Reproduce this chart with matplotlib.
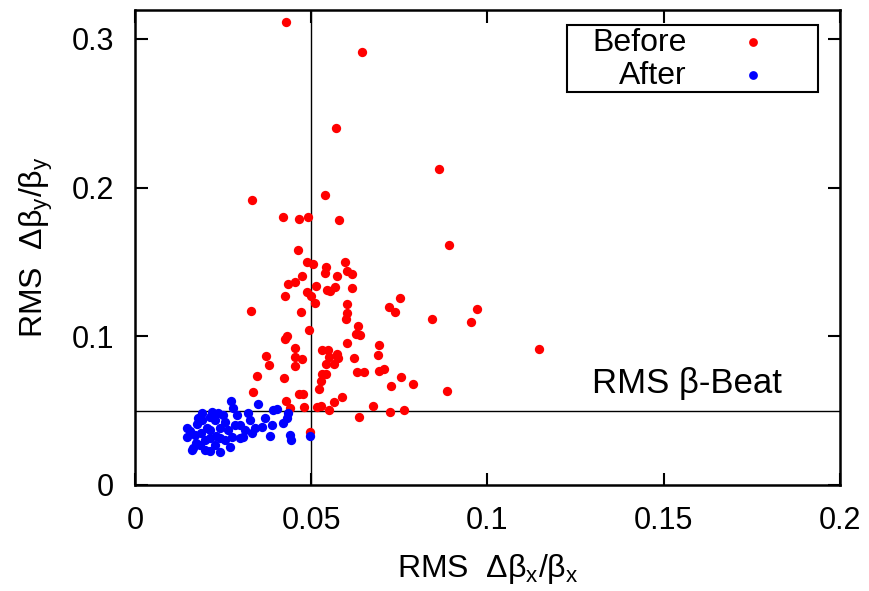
import matplotlib
matplotlib.use('Agg')
import matplotlib.pyplot as plt
from matplotlib.patches import Rectangle

plt.rcParams['font.family'] = ['Liberation Sans', 'DejaVu Sans']
plt.rcParams['mathtext.fontset'] = 'custom'
plt.rcParams['mathtext.rm'] = 'Liberation Sans'
plt.rcParams['mathtext.it'] = 'Liberation Sans'
plt.rcParams['mathtext.default'] = 'rm'

# RMS beta-beat before correction
before_x = [0.0428, 0.0644, 0.0570, 0.0862, 0.0891, 0.0332, 0.0539, 0.0420, 0.0464, 0.0490,
            0.0578, 0.0462, 0.0489, 0.0506, 0.0541, 0.0597, 0.0540, 0.0601, 0.0616, 0.0473,
            0.0574, 0.0455, 0.0434, 0.0513, 0.0488, 0.0544, 0.0553, 0.0568, 0.0616, 0.0426,
            0.0499, 0.0510, 0.0752, 0.0720, 0.0737, 0.0601, 0.0601, 0.0599, 0.0329, 0.0470,
            0.0842, 0.0970, 0.0952, 0.1146, 0.0632, 0.0493, 0.0627, 0.0638, 0.0430, 0.0426,
            0.0601, 0.0692, 0.0455, 0.0530, 0.0548, 0.0371, 0.0455, 0.0473, 0.0551, 0.0574,
            0.0577, 0.0622, 0.0689, 0.0380, 0.0455, 0.0542, 0.0565, 0.0346, 0.0422, 0.0531,
            0.0542, 0.0527, 0.0631, 0.0649, 0.0692, 0.0706, 0.0755, 0.0523, 0.0725, 0.0790,
            0.0886, 0.0335, 0.0464, 0.0476, 0.0587, 0.0428, 0.0565, 0.0440, 0.0479, 0.0517,
            0.0528, 0.0551, 0.0676, 0.0636, 0.0724, 0.0762, 0.0496]
before_y = [0.3116, 0.2914, 0.2403, 0.2125, 0.1614, 0.1917, 0.1952, 0.1804, 0.1791, 0.1802,
            0.1780, 0.1580, 0.1502, 0.1488, 0.1464, 0.1498, 0.1424, 0.1441, 0.1419, 0.1408,
            0.1406, 0.1365, 0.1350, 0.1340, 0.1300, 0.1313, 0.1305, 0.1330, 0.1327, 0.1273,
            0.1271, 0.1226, 0.1256, 0.1197, 0.1165, 0.1217, 0.1159, 0.1116, 0.1170, 0.1161,
            0.1116, 0.1184, 0.1096, 0.0915, 0.1069, 0.1044, 0.1017, 0.1009, 0.1002, 0.0980,
            0.0955, 0.0944, 0.0921, 0.0908, 0.0906, 0.0866, 0.0859, 0.0845, 0.0863, 0.0879,
            0.0856, 0.0852, 0.0872, 0.0807, 0.0802, 0.0812, 0.0814, 0.0735, 0.0718, 0.0748,
            0.0748, 0.0701, 0.0760, 0.0762, 0.0767, 0.0780, 0.0726, 0.0648, 0.0668, 0.0681,
            0.0632, 0.0625, 0.0612, 0.0612, 0.0592, 0.0563, 0.0556, 0.0520, 0.0527, 0.0525,
            0.0533, 0.0504, 0.0531, 0.0459, 0.0489, 0.0502, 0.0358]

# RMS beta-beat after correction
after_x = [0.0148, 0.0148, 0.0162, 0.0199, 0.0179, 0.0190, 0.0218, 0.0213, 0.0235, 0.0250,
           0.0272, 0.0278, 0.0289, 0.0321, 0.0326, 0.0349, 0.0391, 0.0403, 0.0434, 0.0431,
           0.0420, 0.0389, 0.0360, 0.0312, 0.0284, 0.0255, 0.0241, 0.0204, 0.0213, 0.0241,
           0.0275, 0.0298, 0.0270, 0.0213, 0.0383, 0.0440, 0.0443, 0.0496, 0.0173, 0.0165,
           0.0187, 0.0213, 0.0227, 0.0190, 0.0230, 0.0332, 0.0306, 0.0156, 0.0176, 0.0170,
           0.0199, 0.0227, 0.0255, 0.0264, 0.0298, 0.0340, 0.0369, 0.0184, 0.0241]
after_y = [0.0383, 0.0323, 0.0235, 0.0235, 0.0451, 0.0484, 0.0491, 0.0457, 0.0484, 0.0471,
           0.0565, 0.0518, 0.0471, 0.0484, 0.0437, 0.0545, 0.0504, 0.0511, 0.0484, 0.0451,
           0.0417, 0.0403, 0.0390, 0.0370, 0.0403, 0.0424, 0.0383, 0.0383, 0.0316, 0.0316,
           0.0323, 0.0316, 0.0256, 0.0229, 0.0330, 0.0336, 0.0303, 0.0330, 0.0282, 0.0249,
           0.0350, 0.0370, 0.0437, 0.0437, 0.0330, 0.0350, 0.0323, 0.0363, 0.0410, 0.0336,
           0.0303, 0.0269, 0.0303, 0.0370, 0.0403, 0.0383, 0.0451, 0.0269, 0.0222]

limit = 0.05
xticks = [0, 0.05, 0.1, 0.15, 0.2]
xticklabels = ['0', '0.05', '0.1', '0.15', '0.2']
yticks = [0, 0.1, 0.2, 0.3]
yticklabels = ['0', '0.1', '0.2', '0.3']

fig = plt.figure(figsize=(8.69, 5.91), dpi=100)
ax = fig.add_axes([0.1553, 0.1794, 0.8113, 0.8037])

ax.axhline(limit, color='black', lw=1, zorder=1)
ax.axvline(limit, color='black', lw=1, zorder=1)

ax.scatter(before_x, before_y, s=45, c='#ff0000', linewidths=0, zorder=3)
ax.scatter(after_x, after_y, s=45, c='#0000ff', linewidths=0, zorder=4)

ax.set_xlim(0, 0.2)
ax.set_ylim(0, 0.3195)
ax.set_xticks(xticks)
ax.set_xticklabels(xticklabels)
ax.set_yticks(yticks)
ax.set_yticklabels(yticklabels)
ax.tick_params(direction='in', length=9, width=1.5, labelsize=22, pad=15,
               top=True, right=True)
for s in ax.spines.values():
    s.set_linewidth(1.8)

ax.set_xlabel(r'RMS  $\Delta\beta_\mathrm{x}/\beta_\mathrm{x}$', fontsize=23, labelpad=12)
ax.set_ylabel(r'RMS  $\Delta\beta_\mathrm{y}/\beta_\mathrm{y}$', fontsize=23, labelpad=12)

ax.text(0.648, 0.213, u'RMS \u03b2-Beat', transform=ax.transAxes, fontsize=25,
        va='center', ha='left')

# legend box drawn by hand (gnuplot style: text right aligned, marker after)
ax.add_patch(Rectangle((0.613, 0.827), 0.356, 0.141, transform=ax.transAxes,
                       facecolor='white', edgecolor='black', lw=1.5, zorder=5))
ax.text(0.783, 0.931, 'Before', transform=ax.transAxes, fontsize=23,
        ha='right', va='center', zorder=6)
ax.text(0.783, 0.861, 'After', transform=ax.transAxes, fontsize=23,
        ha='right', va='center', zorder=6)
ax.scatter([0.877], [0.933], s=40, c='#ff0000', linewidths=0, transform=ax.transAxes, zorder=6)
ax.scatter([0.877], [0.863], s=40, c='#0000ff', linewidths=0, transform=ax.transAxes, zorder=6)

fig.savefig('out.png', dpi=100)
